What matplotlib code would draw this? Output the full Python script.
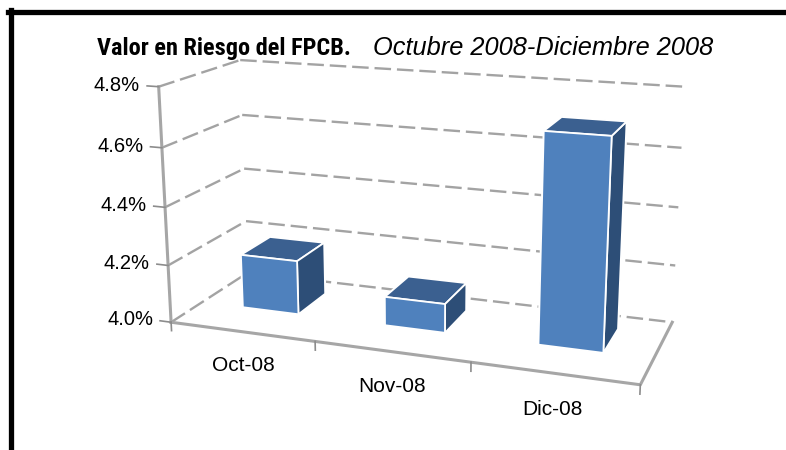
import numpy as np
import matplotlib.pyplot as plt
from matplotlib import font_manager
from matplotlib.lines import Line2D

categories = ['Oct-08', 'Nov-08', 'Dic-08']
var_values = [4.19, 4.10, 4.70]   # VaR del FPCB, en %
z_ticks = [4.0, 4.2, 4.4, 4.6, 4.8]
z_labels = ['4.0%', '4.2%', '4.4%', '4.6%', '4.8%']

plt.rcParams['font.family'] = ['Liberation Sans', 'DejaVu Sans']
installed = {f.name for f in font_manager.fontManager.ttflist}
condensed = [f for f in ['Liberation Sans Narrow', 'Roboto Condensed', 'Open Sans Condensed',
                         'Noto Sans Condensed'] if f in installed]

W, H = 786, 450
fig = plt.figure(figsize=(W / 100, H / 100), dpi=100)
# 3d axes are forced square; keep it inside the figure and don't clip the drawing
S, cx, cy = 420, 416, 213
zoom = 0.89 * 620 / S
ax = fig.add_axes([(cx - S / 2) / W, (H - cy - S / 2) / H, S / W, S / H],
                  projection='3d', computed_zorder=False)
# focal length scaled with zoom so the perspective stays the same
ax.set_proj_type('persp', focal_length=0.4 * zoom / 0.89)
ax.view_init(elev=15.4, azim=-70.3)
ax.set_box_aspect((3.8, 1.36, 1.92), zoom=zoom)
ax.set_axis_off()

n = len(categories)
zmin, zmax = z_ticks[0], z_ticks[-1]
ax.set_xlim(0, n)
ax.set_ylim(0, 1)
ax.set_zlim(zmin, zmax)

# dashed gridlines on left and back walls
grid_kw = dict(color='#a3a3a3', lw=1.7, ls=(0, (7, 2.5)), zorder=1, clip_on=False)
for z in z_ticks:
    ax.plot([0, 0], [0, 1], [z, z], **grid_kw)
    ax.plot([0, n], [1, 1], [z, z], **grid_kw)

# axis + floor edges
edge_kw = dict(color='#a6a6a6', lw=2.2, zorder=2, clip_on=False)
ax.plot([0, 0], [0, 0], [zmin, zmax], **edge_kw)
ax.plot([0, n, n], [0, 0, 1], [zmin, zmin, zmin], **edge_kw)
tick_kw = dict(color='#8c8c8c', lw=1.2, zorder=2, clip_on=False)
for z in z_ticks:
    ax.plot([-0.08, 0], [0, 0], [z, z], **tick_kw)
for i in range(n + 1):
    ax.plot([i, i], [0, 0], [zmin, zmin - 0.03], **tick_kw)

# bars (Excel sets the series a bit behind the middle of the floor)
bw = 0.4
xs = np.arange(n) + (1 - bw) / 2
ys = np.full(n, 0.38)
heights = np.array(var_values) - zmin
# faces: bottom, top, front, back, left, right
face_cols = ['#4f81bd', '#3b6090', '#4f81bd', '#4f81bd', '#4f81bd', '#2d4e77'] * n
ax.bar3d(xs, ys, np.full(n, zmin), bw, bw, heights, color=face_cols,
         edgecolor='white', linewidth=1.3, shade=False, zorder=3, clip_on=False)

for z, lab in zip(z_ticks, z_labels):
    ax.text(-0.13, 0, z, lab, ha='right', va='center', fontsize=14.5, zorder=4)
for i, cat in enumerate(categories):
    ax.text(i + 0.5, 0, zmin - 0.12, cat, ha='center', va='center', fontsize=15, zorder=4)

# title: bold part is condensed in the original
if condensed:
    fig.text(97 / W, 1 - 48 / H, 'Valor en Riesgo del FPCB.', fontsize=17.5,
             fontweight='bold', family=condensed + ['Liberation Sans'],
             ha='left', va='center')
else:
    fig.text(97 / W, 1 - 48 / H, 'Valor en Riesgo del FPCB.', fontsize=15,
             fontweight='bold', ha='left', va='center')
fig.text(713 / W, 1 - 48 / H, 'Octubre 2008-Diciembre 2008', fontsize=18.3,
         fontstyle='italic', ha='right', va='center')

# black frame (left and top)
fig.add_artist(Line2D([10.5 / W, 10.5 / W], [0, 1 - 10 / H], color='black', lw=3.8,
                      transform=fig.transFigure))
fig.add_artist(Line2D([8 / W, 1], [1 - 12 / H, 1 - 12 / H], color='black', lw=3.8,
                      transform=fig.transFigure))

fig.savefig('out.png', dpi=100)
